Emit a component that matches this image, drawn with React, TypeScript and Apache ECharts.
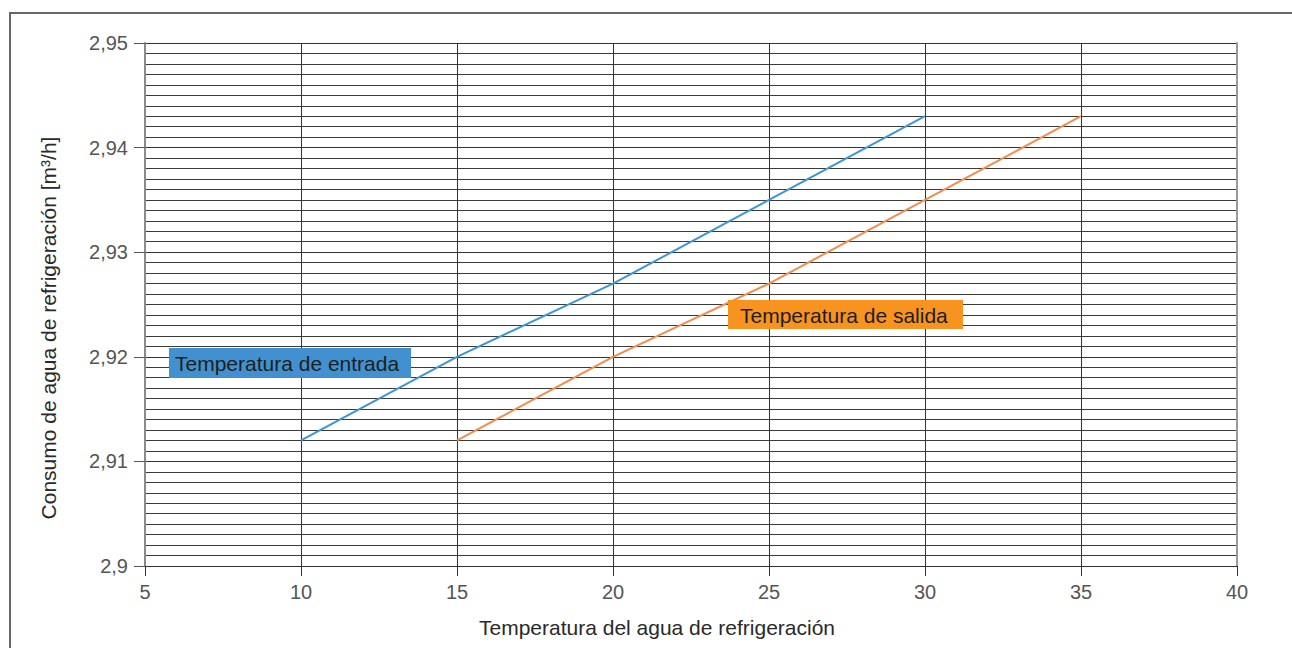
import React, { useEffect, useRef } from "react";
import * as echarts from "echarts";

const xTicks = [5, 10, 15, 20, 25, 30, 35, 40];
const entradaX = [10, 15, 20, 25, 30];
const entradaY = [2.912, 2.92, 2.927, 2.935, 2.943];
const salidaX = [15, 20, 25, 30, 35];
const salidaY = [2.912, 2.92, 2.927, 2.935, 2.943];
const xTitle = "Temperatura del agua de refrigeración";
const yTitle = "Consumo de agua de refrigeración [m³/h]";
const entradaLabel = "Temperatura de entrada";
const salidaLabel = "Temperatura de salida";

const FONT = "'Liberation Sans', Arial, Helvetica, sans-serif";

export default function App() {
  const ref = useRef<HTMLDivElement>(null);
  useEffect(() => {
    if (!ref.current) return;
    const chart = echarts.init(ref.current, null, { renderer: "svg" });
    const fmtY = (v: number) => String(Math.round(v * 100) / 100).replace(".", ",");
    chart.setOption({
      animation: false,
      backgroundColor: "#ffffff",
      textStyle: { fontFamily: FONT },
      grid: { left: 145, right: 55, top: 43, bottom: 82, containLabel: false },
      xAxis: {
        type: "value",
        min: xTicks[0],
        max: xTicks[xTicks.length - 1],
        interval: 5,
        axisLine: { show: true, lineStyle: { color: "#333", width: 1 } },
        axisTick: { show: true, length: 10, lineStyle: { color: "#333", width: 1 } },
        axisLabel: { color: "#555", fontSize: 20, margin: 16, fontFamily: FONT },
        splitLine: { show: true, lineStyle: { color: "#333", width: 1 } },
      },
      yAxis: [
        {
          type: "value",
          min: 2.9,
          max: 2.95,
          interval: 0.01,
          axisLine: { show: true, lineStyle: { color: "#8a8a8a", width: 2 } },
          axisTick: { show: true, length: 11, lineStyle: { color: "#555", width: 1 } },
          axisLabel: { color: "#555", fontSize: 20, margin: 17, formatter: fmtY, fontFamily: FONT },
          splitLine: { show: true, lineStyle: { color: "#333", width: 1 } },
          minorTick: { show: false, splitNumber: 10 },
          minorSplitLine: { show: true, lineStyle: { color: "#3a3a3a", width: 1 } },
        },
        {
          type: "value",
          min: 2.9,
          max: 2.95,
          interval: 0.01,
          position: "right",
          axisLine: { show: true, lineStyle: { color: "#9a9a9a", width: 2 } },
          axisTick: { show: false },
          axisLabel: { show: false },
          splitLine: { show: false },
        },
      ],
      series: [
        {
          type: "line",
          name: entradaLabel,
          data: entradaX.map((x, i) => [x, entradaY[i]]),
          showSymbol: false,
          lineStyle: { color: "#3D95D8", width: 2 },
          z: 5,
        },
        {
          type: "line",
          name: salidaLabel,
          data: salidaX.map((x, i) => [x, salidaY[i]]),
          showSymbol: false,
          lineStyle: { color: "#F58B4C", width: 2 },
          z: 5,
        },
      ],
      graphic: [
        {
          type: "rect",
          shape: { x: 10, y: 13, width: 1300, height: 700 },
          style: { fill: "none", stroke: "#666", lineWidth: 2 },
          silent: true,
        },
        {
          type: "text",
          x: 657,
          y: 627,
          style: { text: xTitle, fill: "#2a2a2a", font: `21px ${FONT}`, textAlign: "center", textVerticalAlign: "middle" },
        },
        {
          type: "text",
          x: 48,
          y: 328,
          rotation: Math.PI / 2,
          style: { text: yTitle, fill: "#2a2a2a", font: `21px ${FONT}`, textAlign: "center", textVerticalAlign: "middle" },
        },
        {
          type: "rect",
          shape: { x: 169, y: 348, width: 242, height: 30 },
          style: { fill: "#4191D0" },
          z: 10,
        },
        {
          type: "text",
          x: 175,
          y: 363,
          z: 11,
          style: { text: entradaLabel, fill: "#1e1e1e", font: `21px ${FONT}`, textAlign: "left", textVerticalAlign: "middle" },
        },
        {
          type: "rect",
          shape: { x: 728, y: 300, width: 235, height: 29 },
          style: { fill: "#F7931E" },
          z: 10,
        },
        {
          type: "text",
          x: 740,
          y: 315,
          z: 11,
          style: { text: salidaLabel, fill: "#1e1e1e", font: `21px ${FONT}`, textAlign: "left", textVerticalAlign: "middle" },
        },
      ],
    });
    return () => chart.dispose();
  }, []);
  return (
    <div
      ref={ref}
      style={{ position: "fixed", left: 0, top: 0, width: 1292, height: 648, background: "#fff" }}
    />
  );
}
